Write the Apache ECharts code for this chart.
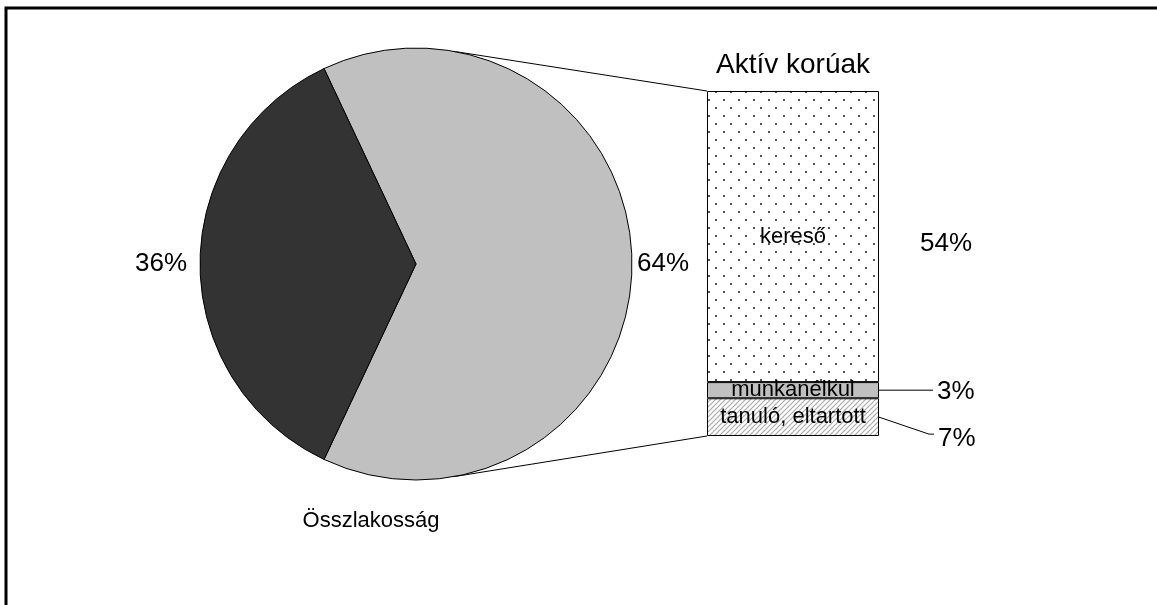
<!DOCTYPE html>
<html>
<head>
<meta charset="utf-8">
<script src="https://cdn.jsdelivr.net/npm/echarts@6/dist/echarts.min.js"></script>
<style>
  html, body { margin: 0; padding: 0; background: #fff; }
  #chart { width: 1157px; height: 605px; }
</style>
</head>
<body>
<div id="chart"></div>
<script>
// Összlakosság (pie)
const pieNames = ['aktív korúak', 'egyéb'];
const pieValues = [64, 36];
const pieLabels = ['64%', '36%'];
// Aktív korúak (stacked bar, bottom -> top)
const barNames = ['tanuló, eltartott', 'munkanélkül', 'kereső'];
const barValues = [7, 3, 54];
const barPctLabels = ['7%', '3%', '54%'];
const pieTitle = 'Összlakosság';
const barTitle = 'Aktív korúak';

const FONT = 'Liberation Sans, Arial, sans-serif';
const pieCenter = [416, 264];
const pieRadius = 216;
const grid = { left: 707, top: 91, width: 172, height: 345 };

// pontozott minta
function dotPattern() {
  const c = document.createElement('canvas');
  c.width = 15; c.height = 16;
  const ctx = c.getContext('2d');
  ctx.fillStyle = '#fff';
  ctx.fillRect(0, 0, 15, 16);
  ctx.fillStyle = '#555';
  ctx.fillRect(3, 3, 2, 2);
  ctx.fillRect(10, 11, 2, 2);
  return c;
}
// ferde vonalas minta
function hatchPattern() {
  const c = document.createElement('canvas');
  c.width = 5; c.height = 5;
  const ctx = c.getContext('2d');
  ctx.fillStyle = '#fff';
  ctx.fillRect(0, 0, 5, 5);
  ctx.strokeStyle = '#aaa';
  ctx.lineWidth = 1.2;
  ctx.beginPath();
  ctx.moveTo(-1, 6); ctx.lineTo(6, -1);
  ctx.moveTo(-1, 1); ctx.lineTo(1, -1);
  ctx.moveTo(4, 6); ctx.lineTo(6, 4);
  ctx.stroke();
  return c;
}

const barFills = [
  { image: hatchPattern(), repeat: 'repeat' },
  '#c0c0c0',
  { image: dotPattern(), repeat: 'repeat' }
];
const total = barValues.reduce((a, b) => a + b, 0);

const option = {
  animation: false,
  backgroundColor: '#fff',
  grid: grid,
  xAxis: { type: 'category', data: [barTitle], show: false },
  yAxis: { type: 'value', min: 0, max: total, show: false },
  series: [
    {
      type: 'pie',
      center: pieCenter,
      radius: pieRadius,
      startAngle: 180 * pieValues[0] / 100,
      clockwise: true,
      data: pieNames.map((n, i) => ({
        name: n,
        value: pieValues[i],
        itemStyle: { color: ['#c0c0c0', '#333333'][i] },
        label: { padding: [[16, 0, 0, 0], [16, 8, 0, 0]][i] }
      })),
      itemStyle: { borderColor: '#000', borderWidth: 1 },
      label: {
        position: 'outside',
        formatter: p => pieLabels[p.dataIndex],
        fontFamily: FONT, fontSize: 26, color: '#000'
      },
      labelLine: { show: false, length: 0, length2: 0 },
      silent: true
    }
  ].concat(barValues.map((v, i) => ({
    type: 'bar',
    name: barNames[i],
    stack: 'aktiv',
    barWidth: '100%',
    data: [v],
    itemStyle: { color: barFills[i], borderColor: '#000', borderWidth: 1 },
    label: {
      show: true, position: 'inside',
      formatter: barNames[i],
      fontFamily: FONT, fontSize: 22, color: '#000'
    },
    silent: true
  })))
};

const chart = echarts.init(document.getElementById('chart'));
chart.setOption(option);

// összekötő vonalak, feliratok, keret
const xMid = chart.convertToPixel({ xAxisIndex: 0 }, barTitle);
const barL = xMid - grid.width / 2;
const barR = xMid + grid.width / 2;
const yOf = v => chart.convertToPixel({ yAxisIndex: 0 }, v);
const pieAt = deg => [
  pieCenter[0] + pieRadius * Math.cos(deg * Math.PI / 180),
  pieCenter[1] - pieRadius * Math.sin(deg * Math.PI / 180)
];
const lineStyle = { stroke: '#000', lineWidth: 1 };
// szegmensek közepe
const mids = barValues.map((v, i) => yOf(barValues.slice(0, i).reduce((a, b) => a + b, 0) + v / 2));
const pctPos = [[barR + 59, mids[0] + 22, 'left'], [barR + 58, mids[1] + 2, 'left'], [barR + 67, mids[2] + 7, 'center']];
const txt = (s, x, y, size, align) => ({
  type: 'text', x: x, y: y,
  style: { text: s, font: size + 'px ' + FONT, fill: '#000', align: align || 'center', verticalAlign: 'middle' }
});

chart.setOption({
  graphic: [
    { type: 'rect', shape: { x: 6, y: 8, width: 1300, height: 800 },
      style: { fill: 'none', stroke: '#000', lineWidth: 3 } },
    { type: 'line', shape: { x1: pieAt(80)[0], y1: pieAt(80)[1], x2: barL, y2: yOf(total) }, style: lineStyle },
    { type: 'line', shape: { x1: pieAt(-80)[0], y1: pieAt(-80)[1], x2: barL, y2: yOf(0) }, style: lineStyle },
    { type: 'polyline', shape: { points: [[barR, mids[1]], [barR + 54, mids[1]]] }, style: lineStyle },
    { type: 'polyline', shape: { points: [[barR, mids[0]], [barR + 50, mids[0] + 17], [barR + 55, mids[0] + 17]] }, style: lineStyle },
    txt(barTitle, xMid, yOf(total) - 26, 28),
    txt(pieTitle, 371, 521, 22)
  ].concat(barPctLabels.map((s, i) => txt(s, pctPos[i][0], pctPos[i][1], 26, pctPos[i][2])))
});
</script>
</body>
</html>
